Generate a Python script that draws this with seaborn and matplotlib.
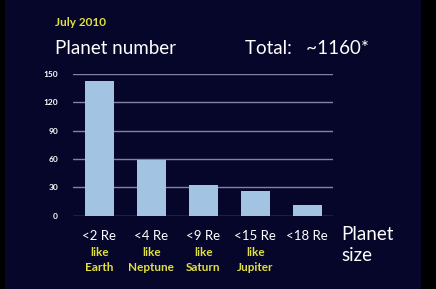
import matplotlib
matplotlib.use("Agg")
import matplotlib.pyplot as plt
import seaborn as sns
import pandas as pd
from matplotlib.patches import Rectangle

sizes = ["<2 Re", "<4 Re", "<9 Re", "<15 Re", "<18 Re"]
likes = ["like\nEarth", "like\nNeptune", "like\nSaturn", "like\nJupiter", ""]
counts = [143, 59, 33, 26, 11]
yticks = [0, 30, 60, 90, 120, 150]

sns.set_theme(style="dark")
plt.rcParams['font.family'] = ['Lato', 'DejaVu Sans']

NAVY = "#06062a"
BAR = "#a3c3e3"
GRID = "#8282a8"
YEL = "#e0e040"

fig = plt.figure(figsize=(4.36, 2.89), dpi=100, facecolor="black")
fig.patches.append(Rectangle((5/436, 0), (421-5)/436, 1, transform=fig.transFigure,
                             facecolor=NAVY, edgecolor="none", zorder=-10))
ax = fig.add_axes([73.3/436, 1-215.7/289, 260/436, (215.7-74)/289])
ax.set_facecolor("none")

df = pd.DataFrame({"size": sizes, "count": counts})
sns.barplot(data=df, x="size", y="count", color=BAR, saturation=1, width=0.56,
            linewidth=0, edgecolor="none", ax=ax, zorder=3)

ax.set_xlim(-0.5, 4.5)
ax.set_ylim(0, 150)
ax.set_yticks(yticks)
ax.set_yticklabels([str(t) for t in yticks], color="white", fontsize=6, fontweight="bold")
for t in yticks:
    ax.axhline(t, color=GRID, lw=1.0, zorder=1)
ax.tick_params(axis="y", length=0, pad=11)
ax.tick_params(axis="x", length=0, pad=10)
ax.set_xticks(range(len(sizes)))
ax.set_xticklabels(sizes, color="white", fontsize=9.5)
ax.set_xlabel("")
ax.set_ylabel("")
ax.grid(False)
for s in ax.spines.values():
    s.set_visible(False)

for i, lab in enumerate(likes):
    if lab:
        ax.text(i, -46.5, lab, ha="center", va="center", color=YEL, fontsize=8.5,
                fontweight="bold", linespacing=1.45, transform=ax.transData, clip_on=False)

fig.text(55/436, 1-22/289, "July 2010", color=YEL, fontsize=8.5, fontweight="bold",
         va="center", ha="left")
fig.text(55/436, 1-49/289, "Planet number", color="white", fontsize=13.5, va="center", ha="left")
fig.text(245/436, 1-49/289, "Total:   ~1160*", color="white", fontsize=13.5, va="center", ha="left")
fig.text(341/436, 1-245/289, "Planet\nsize", color="white", fontsize=13.5, va="center", ha="left",
         linespacing=1.3)

fig.savefig("out.png", dpi=100, facecolor="black")
